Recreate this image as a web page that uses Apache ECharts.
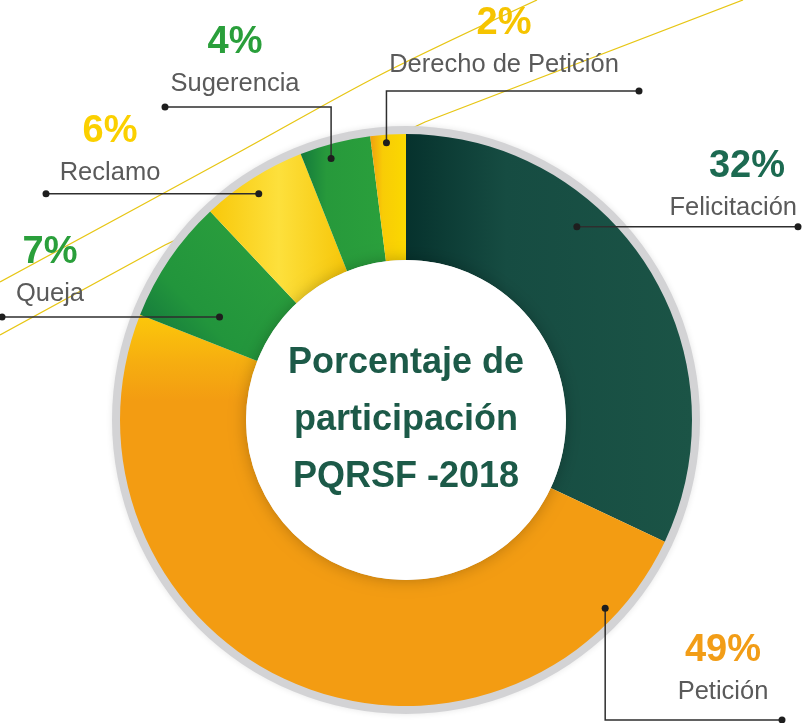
<!DOCTYPE html>
<html>
<head>
<meta charset="utf-8">
<script src="https://cdn.jsdelivr.net/npm/echarts@6/dist/echarts.min.js"></script>
<style>
html, body { margin: 0; padding: 0; background: #fff; }
#chart { width: 803px; height: 723px; }
</style>
</head>
<body>
<div id="chart"></div>
<script>
// datos
var categories = ['Felicitación', 'Petición', 'Queja', 'Reclamo', 'Sugerencia', 'Derecho de Petición'];
var values = [32, 49, 7, 6, 4, 2];
var centerTitle = ['Porcentaje de', 'participación', 'PQRSF -2018'];

var FONT = '"Liberation Sans", Arial, sans-serif';
var CX = 406, CY = 420, R_IN = 160, R_OUT = 286;

// colores de cada porcion
var sliceColors = [
    {type: 'linear', x: 0, y: 0, x2: 1, y2: 0, colorStops: [
        {offset: 0, color: '#06322d'}, {offset: 0.35, color: '#164c42'}, {offset: 1, color: '#1b5446'}]},
    {type: 'linear', x: 0, y: 0, x2: 0, y2: 1, colorStops: [
        {offset: 0, color: '#fcc80a'}, {offset: 0.12, color: '#f6ae10'}, {offset: 0.22, color: '#f39c12'}, {offset: 1, color: '#f39c12'}]},
    {type: 'linear', x: 0, y: 1, x2: 1, y2: 0, colorStops: [
        {offset: 0, color: '#0e6c3d'}, {offset: 0.35, color: '#22953c'}, {offset: 1, color: '#2ea23d'}]},
    {type: 'linear', x: 0, y: 0, x2: 1, y2: 0, colorStops: [
        {offset: 0, color: '#f8c80a'}, {offset: 0.5, color: '#fde03c'}, {offset: 1, color: '#f6c608'}]},
    {type: 'linear', x: 0, y: 0, x2: 1, y2: 0, colorStops: [
        {offset: 0, color: '#137a3b'}, {offset: 0.3, color: '#27993b'}, {offset: 1, color: '#2aa03c'}]},
    {type: 'linear', x: 0, y: 0, x2: 1, y2: 0, colorStops: [
        {offset: 0, color: '#f0a010'}, {offset: 0.35, color: '#f8cc06'}, {offset: 1, color: '#fbd800'}]}
];

// etiquetas: punto dentro de la porcion (fraccion del angulo, radio), recorrido de la linea y posicion del texto
var labelLayouts = [
    {frac: 0.36, r: 258, route: [['h', 798]], x: 797, y: 187, align: 'right', pct: 'pDark'},
    {frac: 0.103, r: 274, route: [['v', 720], ['h', 782]], x: 723, y: 671, align: 'center', pct: 'pOrange'},
    {frac: 0.29, r: 213, route: [['h', 2]], x: 50, y: 273, align: 'center', pct: 'pGreen'},
    {frac: 0.47, r: 270, route: [['h', 46]], x: 110, y: 152, align: 'center', pct: 'pYellow'},
    {frac: 0.39, r: 272, route: [['v', 107], ['h', 165]], x: 235, y: 63, align: 'center', pct: 'pGreen'},
    {frac: 0.44, r: 278, route: [['v', 91], ['h', 639]], x: 504, y: 44, align: 'center', pct: 'pYellow2'}
];

var total = values.reduce(function (a, b) { return a + b; }, 0);
var graphics = [];

// lineas amarillas decorativas (detras del grafico)
graphics.push({type: 'polyline', z: 0, shape: {points: [[0, 282], [243, 150], [380, 75], [537, 0]], smooth: 0.3},
    style: {stroke: '#e7c614', lineWidth: 1.3, fill: null}});
graphics.push({type: 'polyline', z: 0, shape: {points: [[0, 335], [165, 245], [425, 122], [743, 0]]},
    style: {stroke: '#e7c614', lineWidth: 1.3, fill: null}});

var start = 90;
values.forEach(function (v, i) {
    var sweep = v / total * 360;
    var L = labelLayouts[i];
    var a = (start - sweep * L.frac) * Math.PI / 180;
    start -= sweep;
    var p = [CX + L.r * Math.cos(a), CY - L.r * Math.sin(a)];
    var pts = [p];
    var last = p;
    L.route.forEach(function (step) {
        last = step[0] === 'h' ? [step[1], last[1]] : [last[0], step[1]];
        pts.push(last);
    });
    graphics.push({type: 'polyline', z: 20, shape: {points: pts}, style: {stroke: '#2e2e2e', lineWidth: 1.5, fill: null}});
    graphics.push({type: 'circle', z: 21, shape: {cx: p[0], cy: p[1], r: 3.5}, style: {fill: '#1e1e1e'}});
    graphics.push({type: 'circle', z: 21, shape: {cx: last[0], cy: last[1], r: 3.5}, style: {fill: '#1e1e1e'}});
});

var pieData = categories.map(function (c, i) {
    return {name: c, value: values[i], itemStyle: {color: sliceColors[i]}};
});

var pctStyle = function (color) {
    return {fontFamily: FONT, fontSize: 38, fontWeight: 'bold', color: color, lineHeight: 42};
};
var richStyles = {
    n: {fontFamily: FONT, fontSize: 25.5, color: '#5a5a5a', lineHeight: 40},
    pDark: pctStyle('#1c6a51'),
    pOrange: pctStyle('#f29d17'),
    pGreen: pctStyle('#2a9f3b'),
    pYellow: pctStyle('#fbd000'),
    pYellow2: pctStyle('#f6c400')
};
richStyles.pDark.padding = [0, 12, 0, 0];

var myChart = echarts.init(document.getElementById('chart'));
myChart.setOption({
    backgroundColor: '#fff',
    animation: false,
    graphic: graphics,
    series: [
        {
            // anillo gris exterior
            type: 'pie', silent: true, z: 1,
            center: [CX, CY], radius: [R_OUT - 6, 294],
            label: {show: false}, labelLine: {show: false},
            itemStyle: {color: '#d3d3d5', shadowBlur: 6, shadowColor: 'rgba(0,0,0,0.10)'},
            data: [{value: 1}]
        },
        {
            type: 'pie', z: 2,
            center: [CX, CY], radius: [R_IN, R_OUT],
            startAngle: 90, clockwise: true,
            avoidLabelOverlap: false,
            silent: true,
            data: pieData,
            labelLine: {show: false},
            label: {
                show: true,
                position: 'outside',
                formatter: function (p) {
                    return '{' + labelLayouts[p.dataIndex].pct + '|' + p.value + '%}\n{n|' + p.name + '}';
                },
                rich: richStyles
            },
            labelLayout: function (p) {
                var L = labelLayouts[p.dataIndex];
                return {x: L.x, y: L.y, align: L.align, verticalAlign: 'middle'};
            }
        },
        {
            // circulo blanco central con sombra
            type: 'pie', silent: true, z: 3,
            center: [CX, CY], radius: [0, R_IN],
            labelLine: {show: false},
            itemStyle: {color: '#ffffff', shadowBlur: 16, shadowColor: 'rgba(0,0,0,0.25)'},
            label: {
                show: true, position: 'center',
                formatter: centerTitle.join('\n'),
                fontFamily: FONT, fontSize: 36, fontWeight: 'bold',
                color: '#1c5a48', lineHeight: 57
            },
            data: [{value: 1}]
        }
    ]
});
</script>
</body>
</html>
